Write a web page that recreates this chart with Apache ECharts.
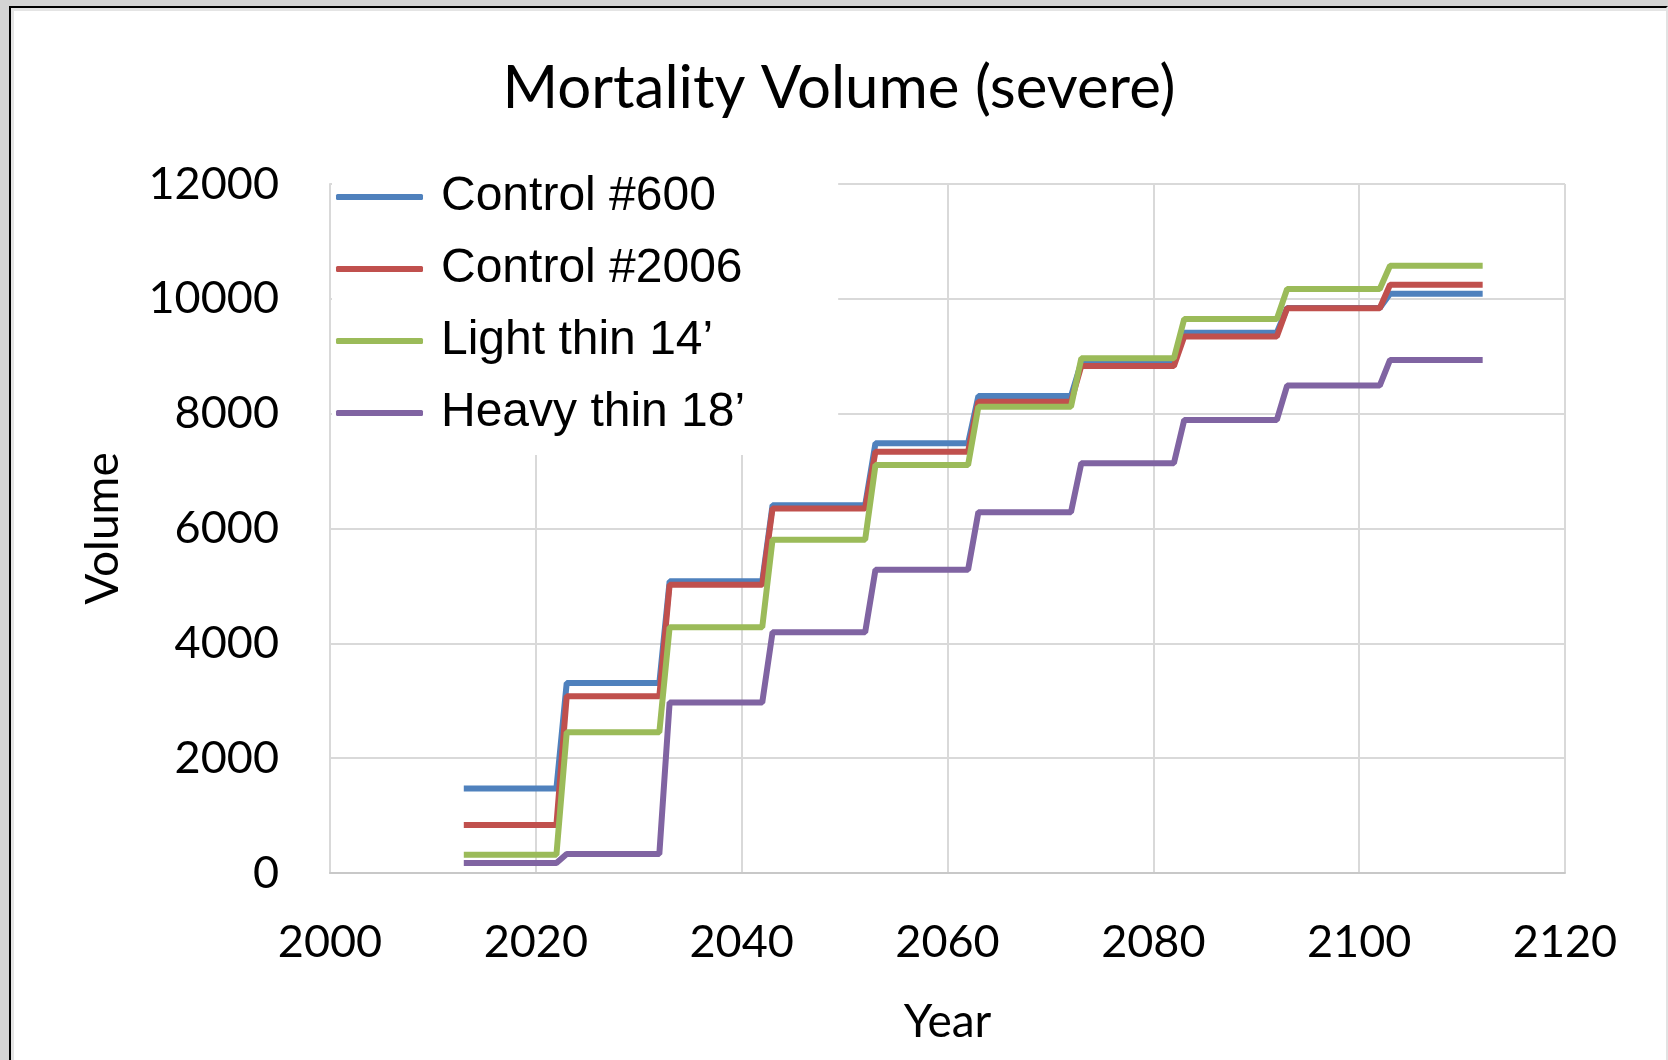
<!DOCTYPE html>
<html>
<head>
<meta charset="utf-8">
<title>Mortality Volume (severe)</title>
<script src="https://cdn.jsdelivr.net/npm/echarts@6.0.0/dist/echarts.min.js"></script>
<style>
    html, body {
        margin: 0;
        padding: 0;
        background: #d4d4d4;
    }
    #frame {
        position: absolute;
        left: 9px;
        top: 6px;
        width: 1659px;
        height: 1054px;
        box-sizing: border-box;
        background: #fff;
        border-left: 2px solid #000;
        border-top: 2px solid #000;
        border-right: 2px solid #e2e2e2;
        box-shadow: inset 3px 3px 0 #e4e4e4;
    }
    #main {
        position: absolute;
        left: 0;
        top: 0;
        width: 1668px;
        height: 1060px;
    }
</style>
</head>
<body>
<div id="frame"></div>
<div id="main"></div>
<script>
// 1. 数据: 年份与各处理的累计死亡材积 (阶梯状)
let years = [2013, 2022, 2023, 2032, 2033, 2042, 2043, 2052, 2053, 2062,
             2063, 2072, 2073, 2082, 2083, 2092, 2093, 2102, 2103, 2112];
let control600 = [1470, 1470, 3310, 3310, 5080, 5080, 6405, 6405, 7483, 7483,
                  8307, 8307, 8890, 8890, 9410, 9410, 9840, 9840, 10090, 10090];
let control2006 = [835, 835, 3080, 3080, 5020, 5020, 6350, 6350, 7338, 7338,
                   8208, 8208, 8830, 8830, 9345, 9345, 9835, 9835, 10245, 10245];
let lightThin = [320, 320, 2450, 2450, 4280, 4280, 5805, 5805, 7106, 7106,
                 8121, 8121, 8965, 8965, 9650, 9650, 10170, 10170, 10575, 10575];
let heavyThin = [175, 175, 330, 330, 2970, 2970, 4195, 4195, 5280, 5280,
                 6285, 6285, 7138, 7138, 7890, 7890, 8490, 8490, 8935, 8935];

let seriesNames = ['Control #600', 'Control #2006', 'Light thin 14\u2019', 'Heavy thin 18\u2019'];
let seriesColors = ['#4f81bd', '#c0504d', '#9bbb59', '#8064a2'];
let seriesData = [control600, control2006, lightThin, heavyThin];

// 2. 把年份和数值配对
function pairUp(values) {
    let ary = [];
    years.forEach(function (y, i) {
        ary.push([y, values[i]]);
    });
    return ary;
}

// 3. 渲染折线图
let myChart = echarts.init(document.getElementById('main'));
let axisFont = 'Lato';

let series = seriesNames.map(function (name, i) {
    return {
        name: name,
        type: 'line',
        symbol: 'none',
        data: pairUp(seriesData[i]),
        lineStyle: {
            color: seriesColors[i],
            width: 6
        },
        itemStyle: {
            color: seriesColors[i]
        }
    };
});

// 刻度不要千位分隔符
function plain(v) {
    return String(v);
}

let option = {
    backgroundColor: 'transparent',
    animation: false,
    title: {
        text: 'Mortality Volume (severe)',
        left: 834,
        top: 54,
        textAlign: 'center',
        textStyle: {
            fontFamily: axisFont,
            fontWeight: 'normal',
            fontSize: 60,
            color: '#000'
        }
    },
    legend: {
        orient: 'vertical',
        left: 332,
        top: 152,
        padding: [9, 93, 6, 4],
        itemGap: 0,
        itemWidth: 87,
        itemHeight: 6,
        icon: 'roundRect',
        backgroundColor: '#fff',
        textStyle: {
            fontFamily: 'Liberation Sans',
            fontSize: 48,
            lineHeight: 72,
            color: '#000',
            padding: [0, 0, 0, 13]
        },
        data: seriesNames
    },
    grid: {
        left: 330,
        right: 103,
        top: 184,
        bottom: 187,
        containLabel: false
    },
    xAxis: {
        type: 'value',
        min: 2000,
        max: 2120,
        interval: 20,
        name: 'Year',
        nameLocation: 'middle',
        nameGap: 126,
        nameTextStyle: {
            fontFamily: axisFont,
            fontSize: 46,
            color: '#000'
        },
        axisLine: {
            lineStyle: { color: '#c8c8c8', width: 2 }
        },
        axisTick: { show: false },
        axisLabel: {
            fontFamily: axisFont,
            fontSize: 45,
            color: '#000',
            margin: 47,
            formatter: plain
        },
        splitLine: {
            show: true,
            lineStyle: { color: '#d9d9d9', width: 2 }
        }
    },
    yAxis: {
        type: 'value',
        min: 0,
        max: 12000,
        interval: 2000,
        name: 'Volume',
        nameLocation: 'middle',
        nameGap: 204,
        nameTextStyle: {
            fontFamily: axisFont,
            fontSize: 46,
            color: '#000'
        },
        axisLine: {
            show: true,
            lineStyle: { color: '#d9d9d9', width: 2 }
        },
        axisTick: { show: false },
        axisLabel: {
            fontFamily: axisFont,
            fontSize: 45,
            color: '#000',
            margin: 51,
            formatter: plain
        },
        splitLine: {
            show: true,
            lineStyle: { color: '#d9d9d9', width: 2 }
        }
    },
    series: series
};
myChart.setOption(option);
</script>
</body>
</html>
